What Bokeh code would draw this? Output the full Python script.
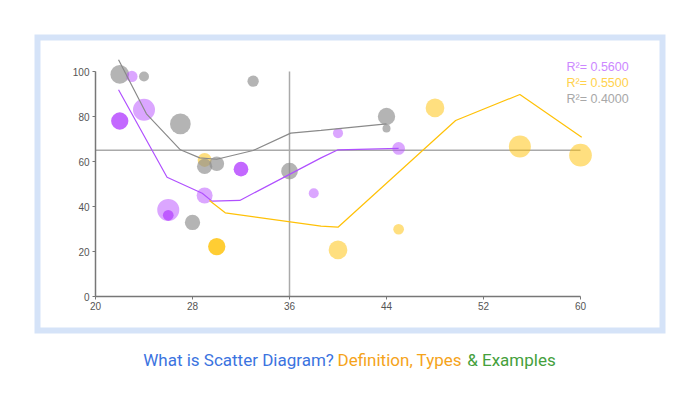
from bokeh.plotting import figure
from bokeh.models import Range1d, FixedTicker, BoxAnnotation, Label
from bokeh.embed import file_html
from bokeh.resources import INLINE

# ---------------- data ----------------
x_ticks = [20, 28, 36, 44, 52, 60]
y_ticks = [0, 20, 40, 60, 80, 100]

gray_x = [22, 24, 33, 27, 29, 30, 36, 28, 44, 44]
gray_y = [98.7, 97.8, 95.7, 76.7, 57.8, 59.0, 55.7, 32.9, 80.0, 74.7]
gray_bubble = [18.7, 10, 11.3, 20.7, 15.3, 14.7, 16.7, 15.3, 17.3, 8]

purple_x = [23, 22, 24, 26, 26, 29, 32, 38, 40, 45]
purple_y = [97.8, 78.0, 83.0, 38.5, 36.1, 44.9, 56.6, 45.9, 72.6, 65.8]
purple_bubble = [11.3, 17.3, 22, 22, 10.7, 16, 14.7, 10, 10, 12.7]

yellow_x = [29, 30, 40, 45, 48, 55, 60]
yellow_y = [60.7, 22.2, 20.7, 29.9, 83.8, 66.7, 62.8]
yellow_bubble = [14, 17.3, 18.7, 10.7, 18.7, 22, 22.7]

gray_trend_x = [21.9, 24.2, 27.0, 28.6, 30.0, 33.0, 36.1, 38.6, 44.0]
gray_trend_y = [105.2, 81.2, 65.2, 61.6, 61.0, 64.9, 72.6, 73.8, 76.7]

purple_trend_x = [21.9, 25.9, 28.8, 29.6, 31.9, 38.6, 40.0, 45.0]
purple_trend_y = [91.9, 53.0, 45.9, 42.4, 42.7, 61.6, 65.2, 65.8]

yellow_trend_x = [29.4, 30.7, 38.6, 40.0, 49.7, 55.0, 60.1]
yellow_trend_y = [42.7, 37.2, 31.3, 30.8, 78.2, 89.8, 70.8]

ref_y = 65
ref_x = 36

r2_labels = ["R\u00b2= 0.5600", "R\u00b2= 0.5500", "R\u00b2= 0.4000"]

# ---------------- styles ----------------
GRAY = "#8c8c8c"
PURPLE = "#b84dff"
YELLOW = "#ffc000"
purple_alpha = [0.5, 0.85, 0.5, 0.5, 0.85, 0.5, 0.85, 0.5, 0.5, 0.5]
yellow_alpha = [0.5, 0.8, 0.5, 0.5, 0.5, 0.5, 0.5]

W, H = 698, 400
# pixel mapping: x=20 -> 95px, x=60 -> 580px ; y=0 -> 296px, y=100 -> 71px
sx = (580 - 95) / 40.0
sy = (296 - 71) / 100.0
x0 = 20 - 95 / sx
x1 = x0 + W / sx
y1 = 100 + 71 / sy
y0 = y1 - H / sy


def px2x(px):
    return x0 + px / sx


def px2y(py):
    return y1 - py / sy


p = figure(width=W, height=H, output_backend="svg", toolbar_location=None,
           x_range=Range1d(x0, x1), y_range=Range1d(y0, y1),
           min_border=0, title=None)
p.outline_line_color = None
p.grid.visible = False
p.background_fill_color = "white"
p.border_fill_color = "white"

# axes placed inside the frame
for ax, ticks, bounds, loc in ((p.xaxis, x_ticks, (20, 60), 0), (p.yaxis, y_ticks, (0, 100), 20)):
    ax.fixed_location = loc
    ax.bounds = bounds
    ax.ticker = FixedTicker(ticks=ticks)
    ax.minor_tick_line_color = None
    ax.major_tick_in = 0
    ax.major_tick_out = 3
    ax.major_tick_line_color = "#777777"
    ax.axis_line_color = "#777777"
    ax.axis_line_width = 1.5
    ax.major_label_text_font = "Liberation Sans"
    ax.major_label_text_font_size = "10px"
    ax.major_label_text_color = "#555555"
p.xaxis.major_label_standoff = 2
p.yaxis.major_label_standoff = 3

# outer light-blue frame
p.add_layout(BoxAnnotation(left=px2x(37), right=px2x(662), top=px2y(37), bottom=px2y(330),
                           fill_color=None, fill_alpha=0, line_color="#d5e3f8",
                           line_alpha=1.0, line_width=6, line_join="miter"))

# reference lines
p.segment(x0=[x_ticks[0]], x1=[x_ticks[-1]], y0=[ref_y], y1=[ref_y], line_color="#aaaaaa", line_width=1.5)
p.segment(x0=[ref_x], x1=[ref_x], y0=[y_ticks[0]], y1=[y_ticks[-1]], line_color="#aaaaaa", line_width=1.5)

# bubbles
p.scatter(yellow_x, yellow_y, size=yellow_bubble, fill_color=YELLOW, fill_alpha=yellow_alpha, line_color=None)
p.scatter(gray_x, gray_y, size=gray_bubble, fill_color=GRAY, fill_alpha=0.65, line_color=None)
p.scatter(purple_x, purple_y, size=purple_bubble, fill_color=PURPLE, fill_alpha=purple_alpha, line_color=None)

# trend lines
p.line(gray_trend_x, gray_trend_y, line_color="#8a8a8a", line_width=1.2)
p.line(purple_trend_x, purple_trend_y, line_color="#b050ff", line_width=1.2)
p.line(yellow_trend_x, yellow_trend_y, line_color="#ffc107", line_width=1.2)

# R^2 labels
for txt, col, py in zip(r2_labels, ["#cc88ff", "#ffd24d", "#a8a8a8"], [66, 82, 98]):
    p.add_layout(Label(x=px2x(566), y=px2y(py), text=txt, text_color=col,
                       text_font="Liberation Sans", text_font_size="12.5px",
                       text_baseline="middle", text_align="left"))

# title
for txt, col, px in (("What is Scatter Diagram?", "#3b73e0", 142.7),
                     ("Definition, Types", "#f5a31a", 337),
                     ("& Examples", "#45a03c", 466.7)):
    p.add_layout(Label(x=px2x(px), y=px2y(359), text=txt, text_color=col,
                       text_font="Roboto", text_font_size="17px",
                       text_baseline="middle", text_align="left"))

open("out.html", "w").write(file_html(p, INLINE))
